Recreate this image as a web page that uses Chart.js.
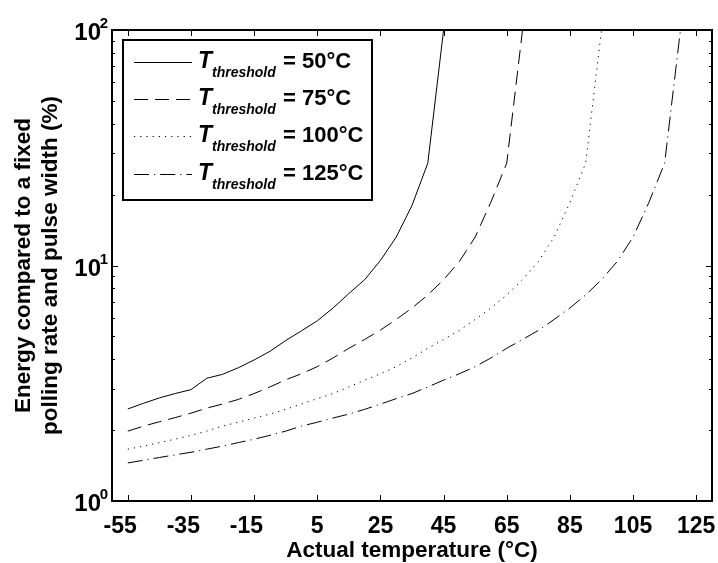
<!DOCTYPE html>
<html>
<head>
<meta charset="utf-8">
<script src="https://cdn.jsdelivr.net/npm/chart.js@4/dist/chart.umd.min.js"></script>
<style>
  body { margin: 0; background: #fff; }
  canvas { display: block; }
</style>
</head>
<body>
<canvas id="energy_chart" width="718" height="563"></canvas>
<script>
// temperature points (°C), every 5 degrees
let temps = [-55, -50, -45, -40, -35, -30, -25, -20, -15, -10, -5, 0, 5, 10, 15, 20, 25, 30, 35, 40,
             45, 50, 55, 60, 65, 70, 75, 80, 85, 90, 95, 100, 105, 110, 115, 120];

// energy (%) for each threshold, runs until the curve leaves the top
let energy50 = [2.46, 2.6, 2.74, 2.86, 2.97, 3.32, 3.45, 3.68, 3.97, 4.32, 4.8, 5.28, 5.82, 6.6, 7.6, 8.7, 10.5, 13.2, 18.0, 27.2, 100];
let energy75 = [1.98, 2.08, 2.17, 2.26, 2.36, 2.48, 2.58, 2.7, 2.86, 3.05, 3.27, 3.47, 3.72, 4.05, 4.45, 4.85, 5.32,
                5.9, 6.6, 7.5, 8.7, 10.4, 13.2, 18.6, 27.2, 100];
let energy100 = [1.66, 1.71, 1.77, 1.83, 1.9, 1.98, 2.08, 2.16, 2.25, 2.34, 2.45, 2.58, 2.72, 2.86, 3.05, 3.26,
                 3.47, 3.72, 4.05, 4.45, 4.85, 5.3, 5.9, 6.6, 7.5, 8.7, 10.4, 13.2, 18.5, 27.2, 100];
let energy125 = [1.45, 1.49, 1.53, 1.57, 1.61, 1.66, 1.71, 1.77, 1.83, 1.9, 1.98, 2.08, 2.16, 2.25, 2.34, 2.45,
                 2.58, 2.72, 2.86, 3.05, 3.26, 3.47, 3.72, 4.05, 4.45, 4.85, 5.3, 5.9, 6.6, 7.5, 8.7, 10.4,
                 13.2, 18.5, 27.2, 100];

let thresholds = ['50', '75', '100', '125'];
let xTicks = [-55, -35, -15, 5, 25, 45, 65, 85, 105, 125];
let yTicks = [1, 10, 100];

let font = "'Liberation Sans', Arial, sans-serif";

function points(vals) {
    return vals.map((v, i) => ({ x: temps[i], y: v }));
}

// frame, inward ticks, tick labels, axis titles and the legend box
let axesPlugin = {
    id: 'matlabAxes',
    afterDraw(chart) {
        let ctx = chart.ctx;
        let a = chart.chartArea;
        let xs = chart.scales.x;
        let ys = chart.scales.y;
        ctx.save();
        ctx.strokeStyle = '#000';
        ctx.fillStyle = '#000';

        // ticks
        ctx.lineWidth = 1;
        ctx.beginPath();
        xTicks.forEach(t => {
            let px = Math.round(xs.getPixelForValue(t)) + 0.5;
            ctx.moveTo(px, a.bottom); ctx.lineTo(px, a.bottom - 6);
            ctx.moveTo(px, a.top); ctx.lineTo(px, a.top + 6);
        });
        for (let d = 1; d < 100; d *= 10) {
            for (let m = 1; m <= 10; m++) {
                let v = d * m;
                let py = Math.round(ys.getPixelForValue(v)) + 0.5;
                let len = (m === 1 || m === 10) ? 6 : 3;
                ctx.moveTo(a.left, py); ctx.lineTo(a.left + len, py);
                ctx.moveTo(a.right, py); ctx.lineTo(a.right - len, py);
            }
        }
        ctx.stroke();

        // frame
        ctx.lineWidth = 2;
        ctx.strokeRect(a.left, a.top, a.right - a.left, a.bottom - a.top);

        // x tick labels
        ctx.font = 'bold 23px ' + font;
        ctx.textBaseline = 'alphabetic';
        xTicks.forEach(t => {
            let px = xs.getPixelForValue(t);
            if (t < 0) {
                ctx.textAlign = 'right';
                ctx.fillText(String(t), px + 9, a.bottom + 32);
            } else {
                ctx.textAlign = 'center';
                ctx.fillText(String(t), px, a.bottom + 32);
            }
        });

        // y tick labels as powers of ten
        yTicks.forEach(v => {
            let py = ys.getPixelForValue(v);
            let exp = String(Math.round(Math.log10(v)));
            ctx.textAlign = 'right';
            ctx.font = 'bold 15px ' + font;
            ctx.fillText(exp, a.left - 4, py - 2);
            ctx.font = 'bold 24px ' + font;
            ctx.fillText('10', a.left - 11, py + 10);
        });

        // axis titles
        ctx.font = 'bold 22.5px ' + font;
        ctx.textAlign = 'center';
        ctx.fillText('Actual temperature (°C)', (a.left + a.right) / 2, a.bottom + 56);
        ctx.save();
        ctx.translate(0, (a.top + a.bottom) / 2);
        ctx.rotate(-Math.PI / 2);
        ctx.fillText('Energy compared to a fixed', 0, 30);
        ctx.fillText('polling rate and pulse width (%)', 0, 57);
        ctx.restore();

        // legend
        let lx = 123, ly = 40, lw = 249, lh = 160;
        ctx.fillStyle = '#fff';
        ctx.fillRect(lx, ly, lw, lh);
        ctx.lineWidth = 2;
        ctx.strokeRect(lx, ly, lw, lh);
        chart.data.datasets.forEach((ds, i) => {
            let y = 62 + i * 37.2;
            ctx.lineWidth = 1;
            ctx.strokeStyle = '#000';
            ctx.setLineDash(ds.borderDash || []);
            ctx.beginPath();
            ctx.moveTo(134, Math.round(y) + 0.5);
            ctx.lineTo(192, Math.round(y) + 0.5);
            ctx.stroke();
            ctx.setLineDash([]);
            ctx.fillStyle = '#000';
            ctx.textAlign = 'left';
            ctx.font = 'italic bold 23px ' + font;
            ctx.fillText('T', 198, y + 6);
            ctx.font = 'italic bold 14px ' + font;
            ctx.fillText('threshold', 212, y + 15);
            ctx.font = 'bold 22px ' + font;
            ctx.fillText('= ' + thresholds[i] + '°C', 283, y + 6);
        });
        ctx.restore();
    }
};

let lineStyles = [[], [14, 7], [1.2, 5], [15, 5, 1.2, 5]];
let series = [energy50, energy75, energy100, energy125];

let energyChart = new Chart(document.getElementById('energy_chart').getContext('2d'), {
    type: 'line',
    data: {
        datasets: series.map((vals, i) => ({
            label: 'T threshold = ' + thresholds[i] + '°C',
            data: points(vals),
            borderColor: '#000',
            borderWidth: 1,
            borderDash: lineStyles[i],
            pointRadius: 0,
            fill: false,
            tension: 0
        }))
    },
    options: {
        responsive: false,
        animation: false,
        layout: { padding: { left: 112, right: 6, top: 30, bottom: 62 } },
        plugins: { legend: { display: false }, tooltip: { enabled: false } },
        scales: {
            x: { type: 'linear', min: -60, max: 130, display: false },
            y: { type: 'logarithmic', min: 1, max: 100, display: false }
        }
    },
    plugins: [axesPlugin]
});
</script>
</body>
</html>
